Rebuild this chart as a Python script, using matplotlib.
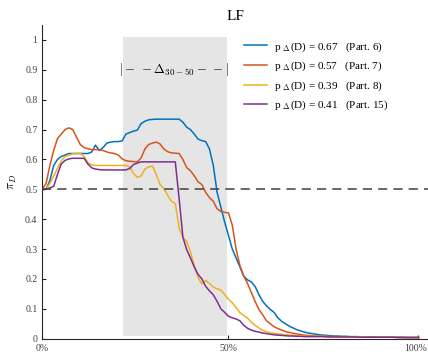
import numpy as np
import matplotlib
matplotlib.use("Agg")
import matplotlib.pyplot as plt
import matplotlib.transforms as mtransforms

plt.rcParams["font.family"] = ["Liberation Serif", "DejaVu Serif"]
plt.rcParams["mathtext.fontset"] = "cm"

# position index 1..100 (0% .. 100%)
x = np.arange(1, 101)

blue = [
    0.50, 0.50, 0.53, 0.58, 0.60, 0.61, 0.615, 0.62, 0.62, 0.62,
    0.62, 0.62, 0.62, 0.625, 0.648, 0.63, 0.64, 0.655, 0.658, 0.66,
    0.66, 0.662, 0.685, 0.69, 0.695, 0.698, 0.72, 0.728, 0.733, 0.734,
    0.735, 0.735, 0.735, 0.735, 0.735, 0.735, 0.735, 0.725, 0.708, 0.70,
    0.685, 0.668, 0.663, 0.66, 0.635, 0.58, 0.49, 0.44, 0.39, 0.345,
    0.30, 0.27, 0.24, 0.21, 0.197, 0.19, 0.175, 0.148, 0.125, 0.11,
    0.098, 0.088, 0.07, 0.058, 0.05, 0.042, 0.036, 0.03, 0.026, 0.022,
    0.019, 0.017, 0.015, 0.013, 0.012, 0.011, 0.010, 0.009, 0.009, 0.008,
    0.008, 0.007, 0.007, 0.007, 0.006, 0.006, 0.006, 0.006, 0.005, 0.005,
    0.005, 0.005, 0.005, 0.005, 0.005, 0.005, 0.004, 0.004, 0.004, 0.004,
]

orange = [
    0.50, 0.52, 0.58, 0.63, 0.67, 0.685, 0.70, 0.706, 0.70, 0.675,
    0.65, 0.64, 0.636, 0.633, 0.633, 0.633, 0.63, 0.625, 0.622, 0.62,
    0.615, 0.602, 0.596, 0.594, 0.593, 0.592, 0.605, 0.635, 0.65, 0.655,
    0.658, 0.652, 0.635, 0.626, 0.622, 0.621, 0.62, 0.60, 0.573, 0.562,
    0.545, 0.525, 0.516, 0.49, 0.472, 0.46, 0.435, 0.426, 0.423, 0.421,
    0.38, 0.30, 0.245, 0.21, 0.185, 0.155, 0.125, 0.098, 0.08, 0.06,
    0.05, 0.04, 0.034, 0.029, 0.024, 0.021, 0.018, 0.016, 0.014, 0.012,
    0.011, 0.010, 0.009, 0.009, 0.008, 0.008, 0.007, 0.007, 0.007, 0.006,
    0.006, 0.006, 0.006, 0.006, 0.006, 0.005, 0.005, 0.005, 0.005, 0.005,
    0.005, 0.005, 0.005, 0.005, 0.004, 0.004, 0.004, 0.004, 0.004, 0.004,
]

yellow = [
    0.50, 0.50, 0.52, 0.545, 0.57, 0.595, 0.61, 0.615, 0.619, 0.62,
    0.621, 0.61, 0.59, 0.582, 0.58, 0.58, 0.58, 0.58, 0.58, 0.58,
    0.58, 0.58, 0.58, 0.575, 0.553, 0.54, 0.545, 0.568, 0.575, 0.578,
    0.55, 0.516, 0.503, 0.48, 0.46, 0.452, 0.37, 0.34, 0.325, 0.29,
    0.245, 0.205, 0.183, 0.195, 0.185, 0.173, 0.167, 0.163, 0.148, 0.132,
    0.12, 0.105, 0.087, 0.078, 0.069, 0.055, 0.045, 0.036, 0.028, 0.023,
    0.02, 0.018, 0.016, 0.015, 0.013, 0.012, 0.011, 0.010, 0.009, 0.009,
    0.008, 0.008, 0.008, 0.008, 0.008, 0.007, 0.007, 0.007, 0.007, 0.007,
    0.006, 0.006, 0.006, 0.006, 0.006, 0.005, 0.005, 0.005, 0.005, 0.005,
    0.005, 0.005, 0.005, 0.005, 0.004, 0.004, 0.004, 0.004, 0.004, 0.004,
]

purple = [
    0.50, 0.50, 0.505, 0.51, 0.55, 0.585, 0.597, 0.602, 0.604, 0.604,
    0.604, 0.604, 0.585, 0.572, 0.568, 0.566, 0.565, 0.565, 0.565, 0.565,
    0.565, 0.565, 0.565, 0.57, 0.583, 0.588, 0.592, 0.592, 0.592, 0.592,
    0.592, 0.592, 0.592, 0.592, 0.592, 0.592, 0.47, 0.34, 0.298, 0.27,
    0.24, 0.215, 0.2, 0.175, 0.16, 0.147, 0.125, 0.1, 0.088, 0.075,
    0.07, 0.066, 0.06, 0.045, 0.035, 0.029, 0.025, 0.022, 0.019, 0.017,
    0.015, 0.013, 0.012, 0.011, 0.010, 0.009, 0.009, 0.008, 0.008, 0.007,
    0.007, 0.007, 0.007, 0.007, 0.007, 0.006, 0.006, 0.006, 0.006, 0.006,
    0.006, 0.006, 0.006, 0.005, 0.005, 0.005, 0.005, 0.005, 0.005, 0.005,
    0.005, 0.005, 0.005, 0.004, 0.004, 0.004, 0.004, 0.004, 0.004, 0.004,
]

labels = [
    r"p $_{\Delta}$(D) = 0.67   (Part. 6)",
    r"p $_{\Delta}$(D) = 0.57   (Part. 7)",
    r"p $_{\Delta}$(D) = 0.39   (Part. 8)",
    r"p $_{\Delta}$(D) = 0.41   (Part. 15)",
]
colors = ["#0072BD", "#D95319", "#EDB120", "#7E2F8E"]

# shaded window
band_x = (22.2, 49.6)
band_y = (0.01, 1.01)

fig = plt.figure(figsize=(4.28, 3.54), dpi=100)
ax = fig.add_axes([0.0988, 0.0432, 0.9012, 0.886])

ax.fill_between(band_x, band_y[0], band_y[1], color="#e5e5e5", lw=0, zorder=0)

for series, c, lab in zip([blue, orange, yellow, purple], colors, labels):
    ax.plot(x, series, color=c, lw=1.1, label=lab, zorder=2)

ax.axhline(0.5, color="#404040", lw=1.1, dashes=(6, 4), zorder=3)

ax.text(35.7, 0.9, r"$|-\,-\Delta_{30-50}-\,-|$", ha="center",
        va="center", fontsize=9.3)

ax.set_xlim(1, 102.5)
ax.set_ylim(0, 1.05)
ax.set_xticks([1, 50, 100])
ax.set_xticklabels(["0%", "50%", "100%"])
ax.set_yticks(np.arange(0, 1.01, 0.1))
ax.set_yticklabels(["0", "0.1", "0.2", "0.3", "0.4", "0.5", "0.6", "0.7",
                    "0.8", "0.9", "1"])
ax.tick_params(direction="in", length=3, width=0.8, labelsize=7,
               colors="#262626", labelcolor="#404040")
# last tick label sits against the figure edge
last = ax.get_xticklabels()[-1]
last.set_transform(last.get_transform() +
                   mtransforms.ScaledTranslation(-0.03, 0, fig.dpi_scale_trans))
for s in ["top", "right"]:
    ax.spines[s].set_visible(False)
for s in ["left", "bottom"]:
    ax.spines[s].set_linewidth(0.8)
    ax.spines[s].set_color("#262626")

ax.set_ylabel(r"$\pi_D$", fontsize=9, labelpad=4)
ax.set_title("LF", fontsize=11, pad=4)

ax.legend(loc="upper left", bbox_to_anchor=(244 / 428, 1 - 40 / 354),
          bbox_transform=fig.transFigure, frameon=False, fontsize=8,
          handlelength=2.1, handletextpad=0.6, labelspacing=0.55,
          borderpad=0, borderaxespad=0)

fig.savefig("out.png", dpi=100)
